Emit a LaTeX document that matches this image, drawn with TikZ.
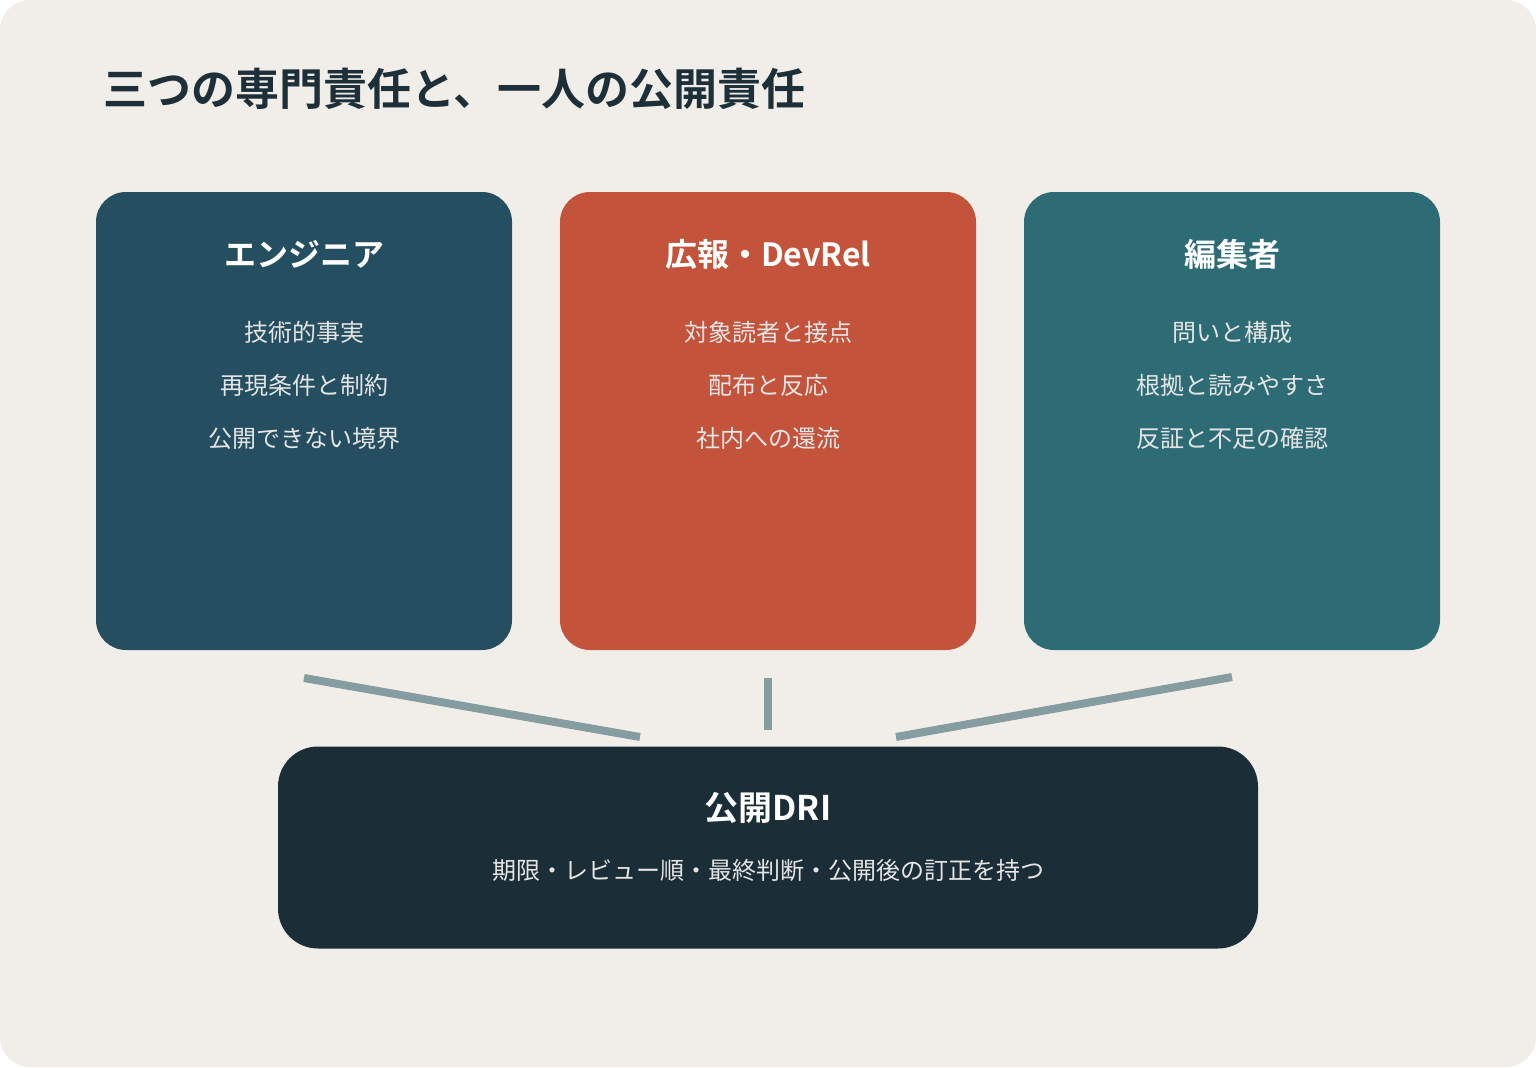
\documentclass[tikz,border=0pt]{standalone}
\usepackage{fontspec}
\setmainfont{Noto Sans CJK JP}
\newfontfamily\jpbold{Noto Sans CJK JP Bold}
\usetikzlibrary{positioning}
\definecolor{paper}{HTML}{F1EEE9}
\definecolor{engblue}{HTML}{254E60}
\definecolor{prred}{HTML}{C4533B}
\definecolor{edteal}{HTML}{2E6C75}
\definecolor{drinavy}{HTML}{1B2D37}
\definecolor{linkgray}{HTML}{859DA0}
\definecolor{inkdark}{HTML}{1D2F38}
\tikzset{
  role/.style={rounded corners=15pt, minimum width=208pt, minimum height=229pt, draw=none},
  head/.style={text=white, font=\jpbold\fontsize{16}{18}\selectfont, anchor=base},
  item/.style={text=white!90!black, font=\fontsize{12}{14}\selectfont, anchor=base},
  link/.style={draw=linkgray, line width=4pt}
}
\begin{document}
\begin{tikzpicture}[x=0.5pt, y=-0.5pt]
  \fill[white] (0,0) rectangle (1536,1067);
  \fill[paper, rounded corners=15pt] (0,0) rectangle (1536,1067);
  \node[anchor=base west, text=inkdark, font=\jpbold\fontsize{22}{24}\selectfont] (title) at (96,105) {三つの専門責任と、一人の公開責任};

  % three roles
  \node[role, fill=engblue] (eng) at (304,421) {};
  \node[role, fill=prred]   (pr)  at (768,421) {};
  \node[role, fill=edteal]  (ed)  at (1232,421) {};
  \node[rounded corners=20pt, minimum width=490pt, minimum height=101pt, fill=drinavy] (dri) at (768,847.5) {};

  \node[head] (engh) at (304,266) {エンジニア};
  \node[item] at (304,341) {技術的事実};
  \node[item] at (304,394) {再現条件と制約};
  \node[item] at (304,447) {公開できない境界};

  \node[head] (prh) at (768,266) {広報・DevRel};
  \node[item] at (768,341) {対象読者と接点};
  \node[item] at (768,394) {配布と反応};
  \node[item] at (768,447) {社内への還流};

  \node[head] (edh) at (1232,266) {編集者};
  \node[item] at (1232,341) {問いと構成};
  \node[item] at (1232,394) {根拠と読みやすさ};
  \node[item] at (1232,447) {反証と不足の確認};

  \node[head, font=\jpbold\fontsize{17}{19}\selectfont] (drih) at (768,820) {公開DRI};
  \node[item] (drit) at (768,879) {期限・レビュー順・最終判断・公開後の訂正を持つ};

  % links
  \coordinate (engl) at (304,678);
  \coordinate (prl)  at (768,678);
  \coordinate (edl)  at (1232,677);
  \coordinate (dril) at (640,737);
  \coordinate (drim) at (768,730);
  \coordinate (drir) at (896,737);
  \draw[link] (engl) -- (dril);
  \draw[link] (prl) -- (drim);
  \draw[link] (edl) -- (drir);
\end{tikzpicture}
\end{document}
